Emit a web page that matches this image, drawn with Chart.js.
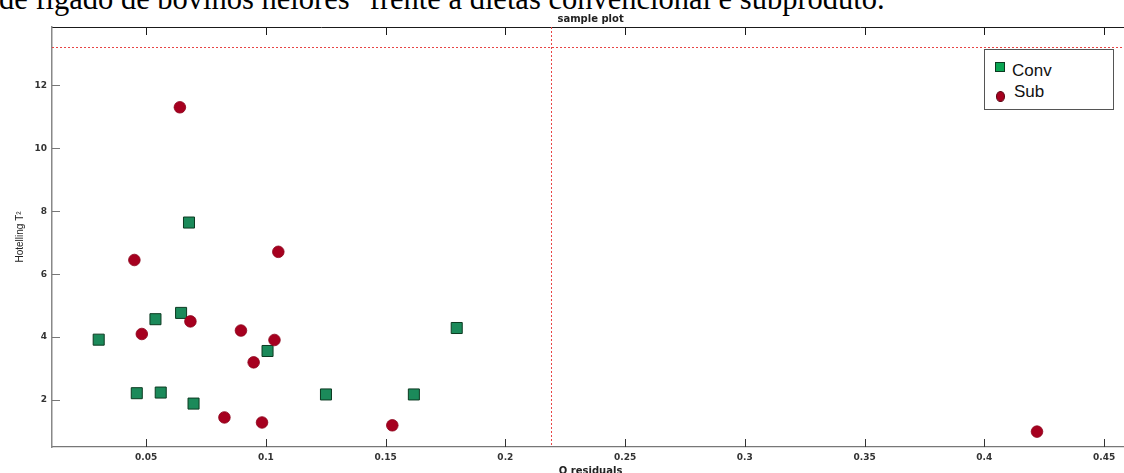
<!doctype html>
<html lang="pt">
  <head>
    <meta charset="utf-8">
    <title>sample plot</title>
    <style>
      * {
        margin: 0;
        padding: 0;
      }
      html, body {
        width: 1124px;
        height: 473px;
        overflow: hidden;
        background: #fff;
      }
      .page {
        position: relative;
        width: 1124px;
        height: 473px;
        overflow: hidden;
      }
      .caption {
        position: absolute;
        left: -1px;
        top: -16px;
        font-family: "Liberation Serif", "Times New Roman", serif;
        font-size: 30.5px;
        line-height: 30.5px;
        color: #000;
        white-space: nowrap;
      }
      .chartBox {
        position: absolute;
        left: 0;
        top: 0;
        width: 1138px;
        height: 473px;
      }
      .legend {
        position: absolute;
        left: 984px;
        top: 49px;
        width: 128px;
        height: 59px;
        border: 1px solid #555;
        background: #fff;
        font-family: "Liberation Sans", Arial, sans-serif;
        font-size: 17px;
        line-height: 17px;
        color: #111;
      }
      .legend span {
        position: absolute;
      }
    </style>
  </head>
  <body>
    <div class="page">
      <div class="caption">de fígado de bovinos nelores" frente a dietas convencional e subproduto.</div>
      <div class="chartBox">
        <canvas id="myChart" width="1138" height="473"></canvas>
      </div>
      <div class="legend" id="legend"></div>
    </div>
    <script src="https://cdn.jsdelivr.net/npm/chart.js/dist/chart.umd.min.js"></script>
    <script>
    // data
    const convQ = [0.0302, 0.0461, 0.0539, 0.0561, 0.0646, 0.0679, 0.0698, 0.1007, 0.1251, 0.1618, 0.1797];
    const convT2 = [3.92, 2.22, 4.57, 2.24, 4.77, 7.64, 1.89, 3.56, 2.18, 2.18, 4.29];
    const subQ = [0.0641, 0.0451, 0.0482, 0.0685, 0.0896, 0.0949, 0.1036, 0.1052, 0.0827, 0.0984, 0.1528, 0.422];
    const subT2 = [11.30, 6.45, 4.10, 4.50, 4.21, 3.20, 3.91, 6.71, 1.45, 1.29, 1.20, 1.00];

    const xTicks = [0.05, 0.1, 0.15, 0.2, 0.25, 0.3, 0.35, 0.4, 0.45];
    const yTicks = [2, 4, 6, 8, 10, 12];

    // 95% limits (red dotted lines)
    const qLimit = 0.2189;
    const t2Limit = 13.22;

    const toPoints = (xs, ys) => xs.map((x, i) => ({ x: x, y: ys[i] }));

    const data = {
      datasets: [
        {
          label: 'Conv',
          data: toPoints(convQ, convT2),
          pointStyle: 'rect',
          pointRadius: 7.8,
          backgroundColor: '#1b8a5a',
          borderColor: '#0c3a21',
          borderWidth: 1,
          order: 2
        },
        {
          label: 'Sub',
          data: toPoints(subQ, subT2),
          pointStyle: 'circle',
          pointRadius: 5.8,
          backgroundColor: '#a6001f',
          borderColor: '#8c001a',
          borderWidth: 0.8,
          order: 1
        }
      ]
    };

    // inward ticks and the limit lines
    const frame = {
      id: 'frame',
      beforeDatasetsDraw(chart) {
        const { ctx, chartArea: a, scales: { x, y } } = chart;
        ctx.save();
        ctx.strokeStyle = '#e84545';
        ctx.lineWidth = 1;
        ctx.setLineDash([2, 2]);
        const lx = Math.round(x.getPixelForValue(qLimit)) + 0.5;
        ctx.beginPath();
        ctx.moveTo(lx, a.top);
        ctx.lineTo(lx, a.bottom);
        ctx.stroke();
        const ly = Math.round(y.getPixelForValue(t2Limit)) + 0.5;
        ctx.beginPath();
        ctx.moveTo(a.left, ly);
        ctx.lineTo(a.right, ly);
        ctx.stroke();
        ctx.restore();
      },
      afterDraw(chart) {
        const { ctx, chartArea: a, scales: { x, y } } = chart;
        ctx.save();
        ctx.lineWidth = 1;
        xTicks.forEach(v => {
          const px = Math.round(x.getPixelForValue(v)) + 0.5;
          ctx.strokeStyle = '#1a1a1a';
          ctx.beginPath();
          ctx.moveTo(px, a.top);
          ctx.lineTo(px, a.top + 8);
          ctx.stroke();
          ctx.strokeStyle = '#333';
          ctx.beginPath();
          ctx.moveTo(px, a.bottom);
          ctx.lineTo(px, a.bottom - 8);
          ctx.stroke();
        });
        ctx.strokeStyle = '#777';
        yTicks.forEach(v => {
          const py = Math.round(y.getPixelForValue(v)) + 0.5;
          ctx.beginPath();
          ctx.moveTo(a.left, py);
          ctx.lineTo(a.left + 8, py);
          ctx.stroke();
        });
        ctx.restore();
      }
    };

    const tickFont = { family: '"DejaVu Sans", sans-serif', size: 9, weight: 'bold' };
    const titleFont = { family: '"DejaVu Sans", sans-serif', size: 10, weight: 'bold' };

    // fixed box sizes, no extra room for label overhang
    const fitHorizontal = h => s => {
      s.height = h;
      s.paddingLeft = 0;
      s.paddingRight = 0;
    };

    const config = {
      type: 'scatter',
      data,
      options: {
        responsive: false,
        animation: false,
        layout: { padding: 0 },
        plugins: {
          legend: { display: false },
          tooltip: { enabled: false }
        },
        scales: {
          x: {
            type: 'linear',
            min: 0.0107,
            max: 0.4605,
            afterBuildTicks: s => { s.ticks = xTicks.map(v => ({ value: v })); },
            afterFit: fitHorizontal(26),
            grid: { display: false, drawTicks: false },
            border: { display: true, color: '#777', width: 1.2 },
            ticks: {
              padding: 5,
              color: '#333',
              font: tickFont,
              maxRotation: 0,
              autoSkip: false,
              callback: v => String(v)
            },
            title: {
              display: true,
              text: 'Q residuals',
              color: '#222',
              font: titleFont,
              padding: { top: 0, bottom: -4 }
            }
          },
          // top frame edge, carries the plot title
          top: {
            type: 'linear',
            position: 'top',
            min: 0.0107,
            max: 0.4605,
            afterFit: fitHorizontal(27),
            grid: { display: false, drawTicks: false },
            border: { display: true, color: '#1a1a1a', width: 1 },
            ticks: { display: false },
            title: {
              display: true,
              text: 'sample plot',
              color: '#222',
              font: titleFont,
              padding: { top: 13, bottom: 0 }
            }
          },
          y: {
            type: 'linear',
            min: 0.511,
            max: 13.85,
            afterBuildTicks: s => { s.ticks = yTicks.map(v => ({ value: v })); },
            afterFit: s => {
              s.width = 52;
              s.paddingTop = 0;
              s.paddingBottom = 0;
            },
            grid: { display: false, drawTicks: false },
            border: { display: true, color: '#888', width: 1.5 },
            ticks: {
              padding: 5,
              color: '#333',
              font: tickFont,
              autoSkip: false,
              callback: v => String(v)
            },
            title: {
              display: true,
              text: 'Hotelling T²',
              color: '#222',
              font: { family: '"Liberation Sans", Arial, sans-serif', size: 10 },
              padding: { top: 14, bottom: 0 }
            }
          }
        }
      },
      plugins: [frame]
    };

    const myChart = new Chart(document.getElementById('myChart'), config);

    // legend box inside the plot, built from the datasets
    const legendMarks = {
      Conv: { left: 10, top: 12, width: 10, height: 10, radius: '0', fill: '#0aa552', edge: '#0c3a21', textLeft: 27, textTop: 12 },
      Sub: { left: 11, top: 41, width: 9, height: 11, radius: '50%', fill: '#a6001f', edge: '#5a0010', textLeft: 29, textTop: 33 }
    };
    const legend = document.getElementById('legend');
    myChart.data.datasets.forEach(ds => {
      const m = legendMarks[ds.label];
      const mark = document.createElement('span');
      mark.style.cssText = `left:${m.left}px;top:${m.top}px;width:${m.width - 2}px;height:${m.height - 2}px;` +
        `border:1px solid ${m.edge};background:${m.fill};border-radius:${m.radius};`;
      const text = document.createElement('span');
      text.style.cssText = `left:${m.textLeft}px;top:${m.textTop}px;`;
      text.textContent = ds.label;
      legend.appendChild(mark);
      legend.appendChild(text);
    });
    </script>
  </body>
</html>
